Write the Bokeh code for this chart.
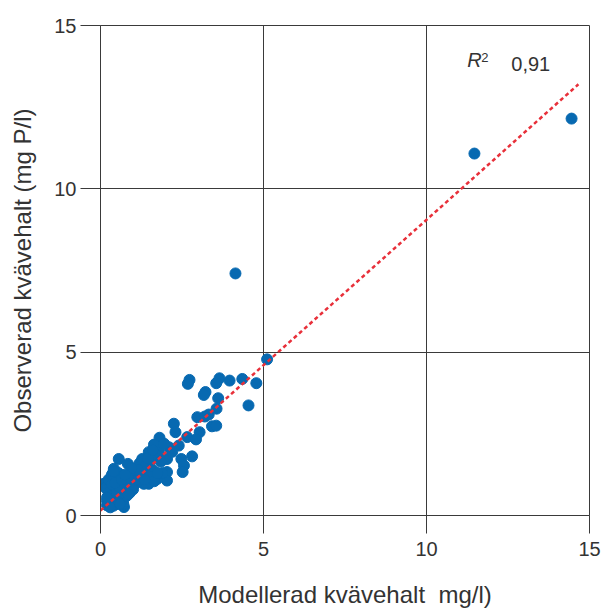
from bokeh.plotting import figure
from bokeh.models import FixedTicker, Label
from bokeh.embed import file_html
from bokeh.resources import INLINE

modelled = [
    5.11, 2.73, 2.68, 3.65, 3.55, 3.96, 4.35, 4.78, 4.54, 3.22, 3.17, 3.61, 3.56, 3.32,
    2.97, 3.20, 3.42, 3.55, 2.25, 2.30, 3.04, 2.66, 2.93, 1.81, 1.64, 2.10, 2.40, 1.48,
    1.79, 2.04, 2.48, 2.81, 2.56, 2.52, 2.04, 2.04, 1.74, 1.48, 1.33, 0.56, 0.84, 0.41,
    1.28, 1.38, 1.20, 1.00, 0.10, 0.72, 0.20, 0.50, 4.14, 11.47, 14.45,
    0.15, 0.25, 0.30, 0.35, 0.40, 0.45, 0.50, 0.55, 0.60, 0.65, 0.70, 0.75, 0.80, 0.85,
    0.90, 0.95, 1.05, 1.10, 1.15, 1.25, 0.20, 0.30, 0.40, 0.50, 0.60, 0.70, 0.80, 0.90,
    1.00, 0.25, 0.35, 0.45, 0.55, 0.65, 0.75, 0.85, 0.30, 0.40, 0.50, 0.60, 0.70, 0.35,
    0.45, 0.55, 0.65, 1.10, 1.20, 1.30, 1.40, 1.55, 1.60, 1.70, 1.85, 1.50, 1.65, 1.90,
    1.35, 1.45, 1.60, 1.75, 1.95, 2.20, 1.15, 0.95, 0.85, 0.40, 0.30, 0.20, 0.60, 0.75,
]
observed = [
    4.78, 4.15, 4.03, 4.20, 4.05, 4.13, 4.18, 4.05, 3.37, 3.78, 3.69, 3.59, 3.27, 3.09,
    3.01, 3.03, 2.73, 2.75, 2.81, 2.55, 2.55, 2.40, 2.33, 2.38, 2.17, 2.09, 2.14, 1.94,
    1.94, 1.73, 1.73, 1.81, 1.53, 1.33, 1.33, 1.07, 1.12, 0.97, 0.97, 1.73, 1.58, 1.43,
    1.73, 1.50, 1.35, 1.15, 0.97, 0.26, 0.31, 0.36, 7.41, 11.08, 12.15,
    0.85, 0.70, 1.05, 0.55, 0.90, 0.65, 1.10, 0.80, 0.95, 0.60, 1.00, 0.75, 1.20, 0.90,
    1.05, 0.85, 1.25, 1.00, 1.10, 1.20, 0.45, 0.40, 0.30, 0.50, 0.45, 0.35, 0.60, 0.70,
    0.80, 1.10, 1.25, 0.75, 1.30, 0.55, 0.95, 1.15, 0.60, 1.15, 0.70, 0.85, 0.50, 0.95,
    1.00, 0.40, 1.10, 1.45, 1.60, 1.25, 1.55, 1.70, 1.40, 1.85, 1.65, 1.20, 1.05, 1.30,
    1.10, 1.75, 2.00, 1.30, 2.20, 1.95, 1.40, 1.45, 0.65, 1.35, 0.25, 0.55, 0.35, 1.25,
]

fit_x = [0.0, 14.66]
fit_y = [0.15, 13.20]

tick_values = [0, 5, 10, 15]
r2_text = "0,91"
x_title = "Modellerad kvävehalt\u00a0 mg/l)"
y_title = "Observerad kvävehalt (mg P/l)"

FONT = "Liberation Sans"
TEXT = "#333333"
LINE = "#3a3a3a"

p = figure(width=602, height=615, x_range=(0, 15), y_range=(0, 15),
           output_backend="svg", toolbar_location=None,
           min_border_left=100, min_border_right=13,
           min_border_top=25, min_border_bottom=100)
p.background_fill_color = "white"
p.border_fill_color = "white"
p.outline_line_color = LINE
p.outline_line_width = 1

for ax in (p.xaxis[0], p.yaxis[0]):
    ax.ticker = FixedTicker(ticks=tick_values)
    ax.axis_line_color = LINE
    ax.major_tick_line_color = LINE
    ax.minor_tick_line_color = None
    ax.major_tick_in = 0
    ax.major_label_text_font = FONT
    ax.major_label_text_font_size = "20px"
    ax.major_label_text_color = TEXT
    ax.axis_label_text_font = FONT
    ax.axis_label_text_font_size = "24px"
    ax.axis_label_text_font_style = "normal"
    ax.axis_label_text_color = TEXT

p.xaxis.major_tick_out = 18
p.yaxis.major_tick_out = 20
p.xaxis.major_label_standoff = 8
p.yaxis.major_label_standoff = 4
p.xaxis.axis_label = x_title
p.yaxis.axis_label = y_title
p.xaxis.axis_label_standoff = 22
p.yaxis.axis_label_standoff = 15

p.grid.ticker = FixedTicker(ticks=tick_values)
p.grid.grid_line_color = LINE
p.grid.grid_line_width = 1

p.scatter(modelled, observed, size=11, color="#0769b1", line_color="#0769b1")
p.line(fit_x, fit_y, line_color="#e8303a", line_width=2.5, line_dash="4 3")

p.add_layout(Label(x=11.25, y=13.6, text="R", text_font=FONT, text_font_style="italic",
                   text_font_size="20px", text_color=TEXT))
p.add_layout(Label(x=11.25, y=13.6, x_offset=14, y_offset=9, text="2", text_font=FONT,
                   text_font_size="13px", text_color=TEXT))
p.add_layout(Label(x=12.6, y=13.6, text=r2_text, text_font=FONT,
                   text_font_size="20px", text_color=TEXT))

open("out.html", "w").write(file_html(p, INLINE))
